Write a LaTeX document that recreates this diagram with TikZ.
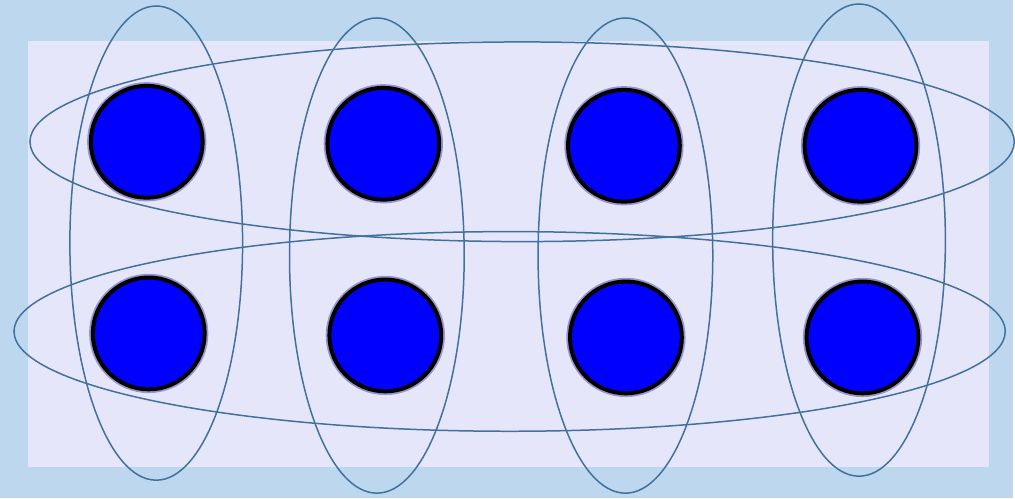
\documentclass[tikz,border=0pt]{standalone}
\usepackage{xcolor}
\usepackage{tikz}
\usetikzlibrary{shapes.geometric}
\definecolor{PaleBlue}{RGB}{189,215,238}
\definecolor{Lilac}{RGB}{230,230,250}
\definecolor{Steel}{RGB}{65,113,156}

\begin{document}
\begin{tikzpicture}[x=1pt,y=-1pt,
    dot/.style={circle,draw=black,line width=4pt,fill=blue,
                minimum size=112pt,inner sep=0pt,
                preaction={draw=black!50!blue,opacity=0.35,line width=7.5pt}},
    ring/.style={ellipse,draw=Steel,line width=1.5pt,inner sep=0pt}]
  \fill[PaleBlue] (0,0) rectangle (1015,499);
  \fill[Lilac] (28,41) rectangle (991,468);
  % two rows of four dots
  \foreach \name/\px/\py in {a1/147/142, a2/384/144, a3/625/146, a4/862/146,
                             b1/149/334, b2/386/336, b3/627/338, b4/864/338}
    \node[dot] (\name) at (\px,\py) {};
  % columns
  \node[ring,minimum width=173pt,minimum height=475pt] (col1) at (156.5,243.5) {};
  \node[ring,minimum width=175pt,minimum height=476pt] (col2) at (377.5,256) {};
  \node[ring,minimum width=175pt,minimum height=476pt] (col3) at (626.5,256) {};
  \node[ring,minimum width=173pt,minimum height=473pt] (col4) at (860.5,240.5) {};
  % rows
  \node[ring,minimum width=986pt,minimum height=200pt] (row1) at (523,142) {};
  \node[ring,minimum width=993pt,minimum height=200pt] (row2) at (510.5,332) {};
\end{tikzpicture}
\end{document}
